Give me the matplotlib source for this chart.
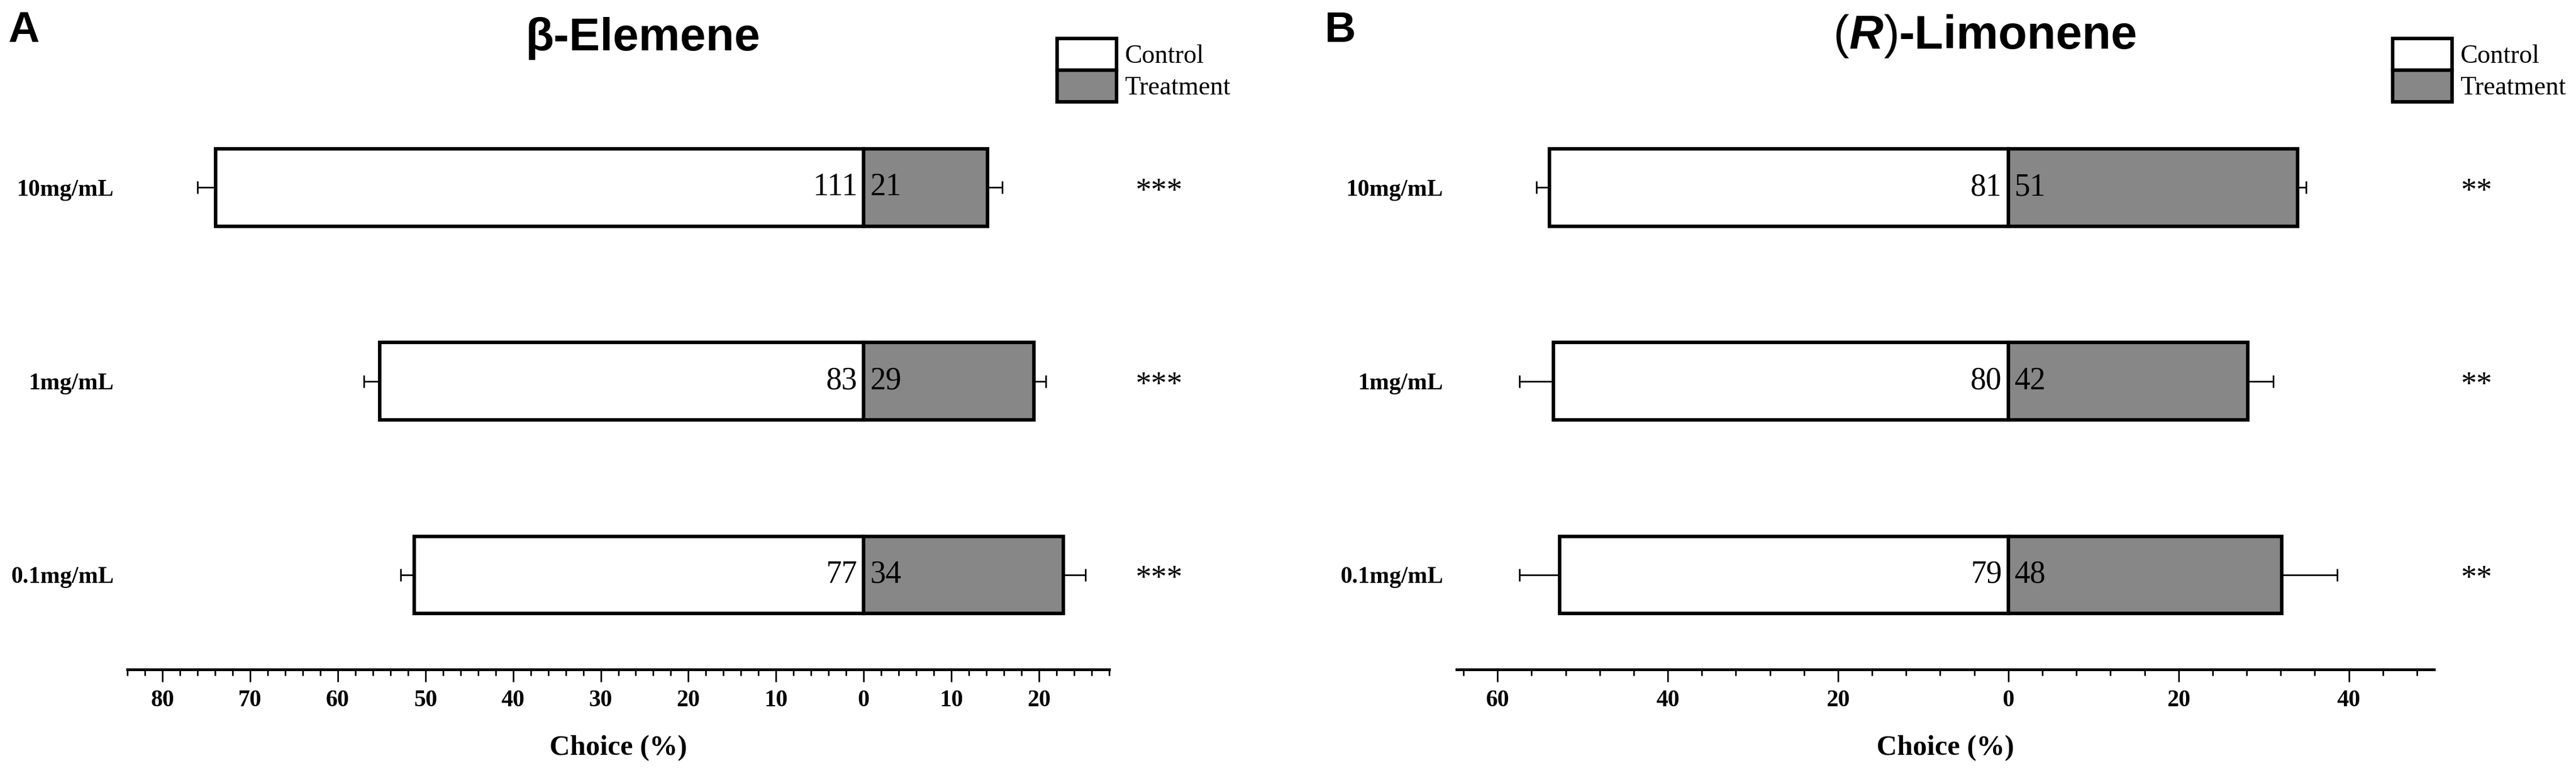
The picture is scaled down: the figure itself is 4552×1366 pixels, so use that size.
import matplotlib
matplotlib.use('Agg')
import matplotlib.pyplot as plt
from matplotlib.text import Annotation
from matplotlib.ticker import MultipleLocator, FuncFormatter
from matplotlib.patches import Patch

plt.rcParams['font.family'] = ['Liberation Serif', 'DejaVu Serif']

## datos (de abajo hacia arriba)
doses = ['0.1mg/mL', '1mg/mL', '10mg/mL']

# panel A, beta-elemeno
a_control = [51.3, 55.2, 73.9]
a_control_err = [1.5, 1.8, 2.1]
a_treat = [22.8, 19.4, 14.1]
a_treat_err = [2.5, 1.4, 1.7]
a_n_control = [77, 83, 111]
a_n_treat = [34, 29, 21]
a_sig = ['***', '***', '***']

# panel B, (R)-limoneno
b_control = [52.7, 53.4, 53.9]
b_control_err = [4.7, 4.0, 1.5]
b_treat = [32.1, 28.1, 34.0]
b_treat_err = [6.5, 3.0, 1.0]
b_n_control = [79, 80, 81]
b_n_treat = [48, 42, 51]
b_sig = ['**', '**', '**']

GRAY = '#878787'
W, H = 4552, 1366


def panel(ax, control, cerr, treat, terr, nc, nt, sig, xlim, major, minor, star_x):
    y = list(range(len(doses)))
    neg = [-c for c in control]
    ax.barh(y, neg, height=0.4, color='white', edgecolor='black', lw=4.5, zorder=3)
    ax.barh(y, treat, height=0.4, color=GRAY, edgecolor='black', lw=4.5, zorder=3)
    ax.errorbar(neg, y, xerr=[cerr, [0] * len(y)], fmt='none', ecolor='black',
                elinewidth=2, capsize=8, capthick=2, zorder=2)
    ax.errorbar(treat, y, xerr=[[0] * len(y), terr], fmt='none', ecolor='black',
                elinewidth=2, capsize=8, capthick=2, zorder=2)
    for yi, a, b, s in zip(y, nc, nt, sig):
        ax.annotate(str(a), (0, yi), xytext=(-8, 0), textcoords='offset points',
                    ha='right', va='center', fontsize=40, zorder=5)
        ax.annotate(str(b), (0, yi), xytext=(8, 0), textcoords='offset points',
                    ha='left', va='center', fontsize=40, zorder=5)
        ax.annotate(s, (star_x, yi), xytext=(0, -6), textcoords='offset points',
                    ha='center', va='center', fontsize=40, annotation_clip=False)

    ax.set_xlim(xlim)
    ax.set_ylim(-0.488, 2.53)
    ax.xaxis.set_major_locator(MultipleLocator(major))
    ax.xaxis.set_minor_locator(MultipleLocator(minor))
    ax.xaxis.set_major_formatter(FuncFormatter(lambda v, p: '%d' % abs(round(v))))
    for sp in ['left', 'right', 'top']:
        ax.spines[sp].set_visible(False)
    ax.spines['bottom'].set_linewidth(3.5)
    ax.tick_params(axis='x', which='major', length=16, width=2, pad=10, labelsize=30)
    ax.tick_params(axis='x', which='minor', length=8, width=2)
    ax.set_yticks(y)
    ax.set_yticklabels(doses, fontweight='bold', fontsize=30)
    ax.tick_params(axis='y', length=0, pad=17)
    for t in ax.get_xticklabels():
        t.set_fontweight('bold')
    ax.set_xlabel('Choice (%)', fontsize=36, fontweight='bold', labelpad=30)


fig = plt.figure(figsize=(W / 100, H / 100), dpi=100)
ax1 = fig.add_axes([225 / W, 1 - 1183 / H, 1735 / W, 1033 / H])
ax2 = fig.add_axes([2574 / W, 1 - 1183 / H, 1727 / W, 1033 / H])

panel(ax1, a_control, a_control_err, a_treat, a_treat_err, a_n_control, a_n_treat,
      a_sig, (-84, 28), 10, 2, 33.7)
panel(ax2, b_control, b_control_err, b_treat, b_treat_err, b_n_control, b_n_treat,
      b_sig, (-64.8, 50), 20, 4, 55)

# titulos y letras de panel
sans = 'Liberation Sans'
fig.text(1136 / W, 1 - 89 / H, 'β-Elemene', ha='center', va='baseline',
         fontsize=59, fontweight='bold', family=sans)
prev = fig.text(3240 / W, 1 - 86 / H, '(', ha='left', va='baseline',
                fontsize=60, family=sans)
for piece, st, wt in [('R', 'italic', 'bold'), (')', 'normal', 'normal'),
                      ('-Limonene', 'normal', 'bold')]:
    prev = fig.add_artist(Annotation(
        piece, xy=(1, 0), xycoords=prev, xytext=(0, 0), textcoords='offset points',
        ha='left', va='bottom', fontsize=60, family=sans, style=st, fontweight=wt))

fig.text(14 / W, 1 - 74 / H, 'A', ha='left', va='baseline', fontsize=55,
         fontweight='bold', family=sans)
fig.text(2341 / W, 1 - 74 / H, 'B', ha='left', va='baseline', fontsize=55,
         fontweight='bold', family=sans)

# leyendas
handles = [Patch(facecolor='white', edgecolor='black', lw=4.5),
           Patch(facecolor=GRAY, edgecolor='black', lw=4.5)]
for x0 in [1868, 4228]:
    fig.legend(handles, ['Control', 'Treatment'], loc='upper left',
               bbox_to_anchor=(x0 / W, 1 - 68 / H), frameon=False, borderpad=0,
               borderaxespad=0, labelspacing=0, handlelength=2.3, handleheight=1.5,
               handletextpad=0.3, fontsize=33)

fig.savefig('out.png', dpi=100)
